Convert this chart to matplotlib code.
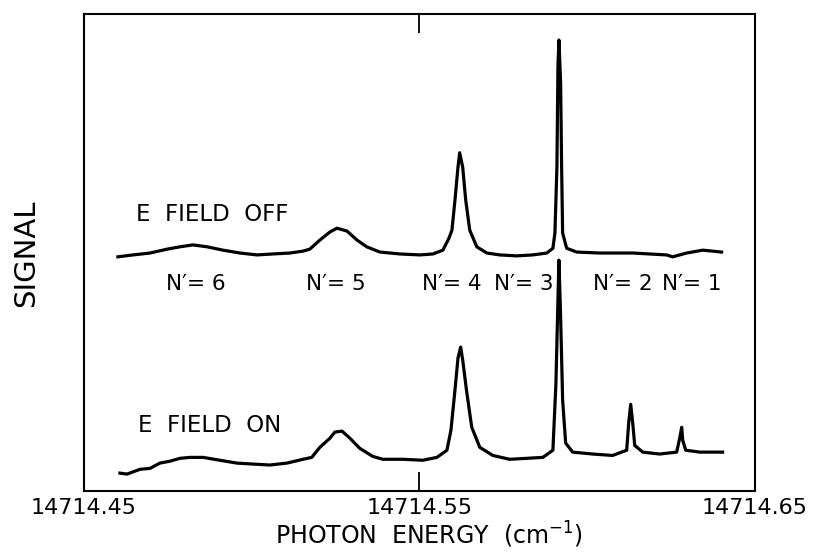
import matplotlib
matplotlib.use('Agg')
import matplotlib.pyplot as plt

# photon energy (cm^-1) and signal (arb. units)
e_off = [14714.4601, 14714.4646, 14714.4697, 14714.4747, 14714.4786, 14714.4825,
         14714.4867, 14714.4914, 14714.4965, 14714.5016, 14714.5063, 14714.5114,
         14714.5153, 14714.5173, 14714.5203, 14714.5233, 14714.5254, 14714.5284,
         14714.5314, 14714.5343, 14714.5382, 14714.5442, 14714.5501, 14714.5540,
         14714.5570, 14714.5588, 14714.5597, 14714.5606, 14714.5615, 14714.5620,
         14714.5629, 14714.5638, 14714.5650, 14714.5671, 14714.5701, 14714.5740,
         14714.5790, 14714.5838, 14714.5880, 14714.5898, 14714.5904, 14714.5910,
         14714.5913, 14714.5916, 14714.5921, 14714.5924, 14714.5927, 14714.5939,
         14714.5969, 14714.6038, 14714.6136, 14714.6237, 14714.6255, 14714.6297,
         14714.6345, 14714.6401]
s_off = [49.1, 49.5, 49.9, 50.7, 51.2, 51.6,
         51.2, 50.5, 49.9, 49.5, 49.7, 49.9,
         50.3, 50.7, 52.6, 54.3, 55.1, 54.5,
         52.6, 51.2, 50.1, 49.7, 49.5, 49.7,
         50.5, 53.0, 54.7, 61.0, 67.9, 70.9,
         67.9, 61.0, 54.7, 51.2, 49.9, 49.5,
         49.3, 49.5, 49.9, 50.9, 54.1, 67.9,
         88.9, 94.5, 85.5, 67.9, 54.1, 50.9,
         50.1, 49.9, 49.9, 49.5, 49.1, 49.9,
         50.5, 50.1]

e_on = [14714.4607, 14714.4628, 14714.4667, 14714.4697, 14714.4726, 14714.4756,
        14714.4786, 14714.4816, 14714.4855, 14714.4905, 14714.4956, 14714.5004,
        14714.5054, 14714.5105, 14714.5153, 14714.5179, 14714.5203, 14714.5233,
        14714.5248, 14714.5269, 14714.5293, 14714.5322, 14714.5361, 14714.5391,
        14714.5451, 14714.5510, 14714.5552, 14714.5582, 14714.5594, 14714.5606,
        14714.5615, 14714.5623, 14714.5629, 14714.5641, 14714.5656, 14714.5680,
        14714.5719, 14714.5769, 14714.5820, 14714.5868, 14714.5898, 14714.5907,
        14714.5913, 14714.5916, 14714.5921, 14714.5927, 14714.5936, 14714.5957,
        14714.6017, 14714.6076, 14714.6118, 14714.6124, 14714.6130, 14714.6136,
        14714.6142, 14714.6166, 14714.6216, 14714.6267, 14714.6276, 14714.6282,
        14714.6285, 14714.6294, 14714.6336, 14714.6404]
s_on = [3.8, 3.6, 4.6, 4.8, 5.9, 6.3,
        6.9, 7.1, 7.1, 6.5, 5.9, 5.7,
        5.5, 5.9, 6.7, 7.1, 9.2, 11.1,
        12.4, 12.6, 11.1, 9.0, 7.3, 6.7,
        6.7, 6.5, 7.1, 8.6, 12.8, 21.2,
        27.9, 30.2, 27.5, 20.8, 13.4, 9.2,
        7.5, 6.7, 6.9, 7.1, 8.6, 22.6,
        40.0, 48.4, 36.5, 19.1, 10.1, 8.2,
        7.8, 7.5, 8.6, 14.3, 18.2, 14.3,
        9.6, 8.2, 7.8, 8.2, 11.1, 13.4,
        10.7, 8.6, 8.2, 8.2]

line_names = ["N′= 6", "N′= 5", "N′= 4", "N′= 3", "N′= 2", "N′= 1"]
line_pos = [14714.4832, 14714.5250, 14714.5598, 14714.5811, 14714.6105, 14714.6311]

xticks = [14714.45, 14714.55, 14714.65]
xtick_labels = ["14714.45", "14714.55", "14714.65"]

fig = plt.figure(figsize=(8.16, 5.52), dpi=100)
ax = fig.add_axes([0.103, 0.110, 0.822, 0.865])

ax.plot(e_off, s_off, color='black', lw=2.3, solid_joinstyle='round')
ax.plot(e_on, s_on, color='black', lw=2.3, solid_joinstyle='round')

ax.text(14714.4655, 57.9, "E  FIELD  OFF", fontsize=16.5, va='center', ha='left')
ax.text(14714.4661, 13.8, "E  FIELD  ON", fontsize=16.5, va='center', ha='left')
for name, pos in zip(line_names, line_pos):
    ax.text(pos, 43.4, name, fontsize=15.5, va='center', ha='center')

ax.set_xlim(14714.45, 14714.65)
ax.set_ylim(0, 100)
ax.set_xticks(xticks)
ax.set_xticklabels(xtick_labels, fontsize=16)
ax.set_yticks([])
ax.tick_params(axis='x', direction='in', length=14, width=1.3, top=True, pad=5)
for sp in ax.spines.values():
    sp.set_linewidth(1.5)

fig.text(429 / 816, 1 - 535 / 552, "PHOTON  ENERGY  (cm$^{-1}$)", fontsize=17,
         ha='center', va='center')
fig.text(26 / 816, 1 - 253 / 552, "SIGNAL", fontsize=21, rotation=90,
         ha='center', va='center')

plt.savefig('out.png', dpi=100)
